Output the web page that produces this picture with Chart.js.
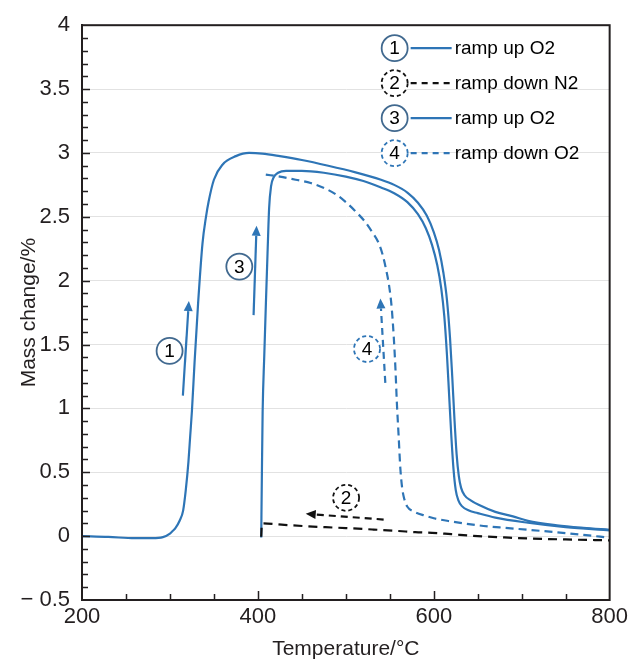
<!DOCTYPE html>
<html>
<head>
<meta charset="utf-8">
<script src="https://cdn.jsdelivr.net/npm/chart.js@4.4.1/dist/chart.umd.min.js"></script>
<style>
  html, body { margin: 0; padding: 0; background: #fff; }
</style>
</head>
<body>
<canvas id="chart" width="632" height="662"></canvas>
<script>
// 1: ramp up O2
const up1Temp = [200, 230, 260, 280, 292, 300, 303, 306, 311, 315, 318, 321, 323, 325, 328, 332, 337, 341, 344, 350,
                 360, 375, 390, 405, 425, 450, 480, 510, 540, 555, 570, 582, 592, 600, 606, 611, 615, 618.5, 621, 623.5,
                 626, 628.5, 631, 635, 642, 651, 670, 690, 707, 740, 770, 800];
const up1Mass = [0, -0.006, -0.016, -0.016, -0.008, 0.02, 0.04, 0.06, 0.12, 0.2, 0.36, 0.58, 0.78, 0.98, 1.36, 1.82, 2.29, 2.5, 2.62, 2.79,
                 2.91, 2.975, 3.0, 2.995, 2.975, 2.945, 2.9, 2.85, 2.79, 2.75, 2.69, 2.61, 2.51, 2.38, 2.24, 2.06, 1.85, 1.55, 1.25, 0.92,
                 0.64, 0.47, 0.38, 0.32, 0.28, 0.245, 0.19, 0.155, 0.12, 0.085, 0.065, 0.05];

// 2: ramp down N2
const down2Temp = [403.8, 404.6, 430, 454, 477, 500, 530, 560, 579, 598, 620, 650, 680, 707, 750, 800];
const down2Mass = [-0.005, 0.1, 0.088, 0.078, 0.07, 0.063, 0.052, 0.04, 0.031, 0.026, 0.015, 0.0, -0.01, -0.018, -0.026, -0.033];

// 3: ramp up O2
const up3Temp = [403.8, 404.5, 405.4, 407.2, 409.1, 411, 412.8, 415, 418, 423, 432, 450, 475, 500, 520, 540, 555, 570, 582, 591,
                 598, 604, 608.5, 612, 615, 617.5, 620, 622.5, 625, 628, 632, 640, 650, 670, 707, 750, 800];
const up3Mass = [-0.01, 0.45, 0.97, 1.4, 1.82, 2.22, 2.57, 2.74, 2.81, 2.845, 2.86, 2.86, 2.845, 2.815, 2.78, 2.73, 2.685, 2.615, 2.52, 2.41,
                 2.28, 2.12, 1.94, 1.72, 1.42, 1.1, 0.78, 0.52, 0.36, 0.28, 0.235, 0.2, 0.18, 0.145, 0.105, 0.07, 0.045];

// 4: ramp down O2
const down4Temp = [409, 425, 443, 460, 477, 490, 500, 510, 522, 530, 537, 542, 546, 549, 552, 554.5, 556.5, 558, 560, 562,
                   564, 566.5, 570, 578, 590, 600, 620, 650, 680, 707, 740, 770, 800];
const down4Mass = [2.83, 2.815, 2.79, 2.765, 2.72, 2.67, 2.615, 2.55, 2.46, 2.38, 2.3, 2.2, 2.08, 1.97, 1.8, 1.56, 1.3, 1.05, 0.79, 0.53,
                   0.38, 0.29, 0.23, 0.19, 0.16, 0.14, 0.115, 0.085, 0.065, 0.05, 0.03, 0.01, -0.012];

const stepNames = ['ramp up O2', 'ramp down N2', 'ramp up O2', 'ramp down O2'];
const stepNumbers = ['1', '2', '3', '4'];

// arrows and circled numbers inside the plot (temperature, mass)
const arrowFrom = [[314.7, 1.10], [543.0, 0.13], [395.1, 1.73], [544.9, 1.20]];
const arrowTo   = [[321.5, 1.84], [454.4, 0.175], [398.5, 2.43], [539.3, 1.86]];
const badgeAt   = [[299.6, 1.45], [500.3, 0.30], [378.9, 2.11], [524.1, 1.465]];

const blue = '#2e75b6';
const ink = '#231f20';
const ringBlue = '#41698f';
const family = "'Liberation Sans', Arial, Helvetica, sans-serif";

// line + badge styles for each step
const styles = [
  { color: blue, dash: [], ring: ringBlue, ringDash: [] },
  { color: '#111111', dash: [9, 6], ring: '#111111', ringDash: [4, 3] },
  { color: blue, dash: [], ring: ringBlue, ringDash: [] },
  { color: blue, dash: [8, 5], ring: blue, ringDash: [4, 3] }
];

function pts(xs, ys) {
  return xs.map((x, i) => ({ x: x, y: ys[i] }));
}

const series = [
  pts(up1Temp, up1Mass),
  pts(down2Temp, down2Mass),
  pts(up3Temp, up3Mass),
  pts(down4Temp, down4Mass)
];

function badge(ctx, cx, cy, txt, st) {
  ctx.save();
  ctx.beginPath();
  ctx.arc(cx, cy, 13, 0, Math.PI * 2);
  ctx.fillStyle = '#fff';
  ctx.fill();
  ctx.setLineDash(st.ringDash);
  ctx.lineWidth = 1.8;
  ctx.strokeStyle = st.ring;
  ctx.stroke();
  ctx.setLineDash([]);
  ctx.fillStyle = '#000';
  ctx.font = '19px ' + family;
  ctx.textAlign = 'center';
  ctx.textBaseline = 'middle';
  ctx.fillText(txt, cx, cy + 1);
  ctx.restore();
}

function arrow(ctx, x0, y0, x1, y1, st) {
  const ang = Math.atan2(y1 - y0, x1 - x0);
  const head = 10, half = 4.5;
  const bx = x1 - Math.cos(ang) * head, by = y1 - Math.sin(ang) * head;
  ctx.save();
  ctx.strokeStyle = st.color;
  ctx.fillStyle = st.color;
  ctx.lineWidth = 2.2;
  ctx.setLineDash(st.dash.length ? [7, 5] : []);
  ctx.beginPath();
  ctx.moveTo(x0, y0);
  ctx.lineTo(bx, by);
  ctx.stroke();
  ctx.setLineDash([]);
  ctx.beginPath();
  ctx.moveTo(x1, y1);
  ctx.lineTo(bx - Math.sin(ang) * half, by + Math.cos(ang) * half);
  ctx.lineTo(bx + Math.sin(ang) * half, by - Math.cos(ang) * half);
  ctx.closePath();
  ctx.fill();
  ctx.restore();
}

const decor = {
  id: 'decor',
  afterDatasetsDraw(chart) {
    const { ctx, chartArea: a, scales: { x, y } } = chart;
    ctx.save();

    // inward tick marks
    ctx.strokeStyle = ink;
    ctx.lineWidth = 1.5;
    ctx.beginPath();
    for (let k = 1; k < 45; k++) {
      const py = Math.round(y.getPixelForValue(-0.5 + k * 0.1)) + 0.5;
      const len = k % 5 === 0 ? 8 : 6;
      ctx.moveTo(a.left, py);
      ctx.lineTo(a.left + len, py);
    }
    for (let k = 1; k < 12; k++) {
      const px = Math.round(x.getPixelForValue(200 + k * 50)) + 0.5;
      const len = k % 4 === 0 ? 9 : 6;
      ctx.moveTo(px, a.bottom);
      ctx.lineTo(px, a.bottom - len);
    }
    ctx.stroke();

    // frame
    ctx.lineWidth = 2;
    ctx.strokeRect(a.left, a.top, a.right - a.left, a.bottom - a.top);

    // arrows and circled step numbers
    for (let i = 0; i < 4; i++) {
      arrow(ctx,
        x.getPixelForValue(arrowFrom[i][0]), y.getPixelForValue(arrowFrom[i][1]),
        x.getPixelForValue(arrowTo[i][0]), y.getPixelForValue(arrowTo[i][1]), styles[i]);
    }
    for (let i = 0; i < 4; i++) {
      badge(ctx, x.getPixelForValue(badgeAt[i][0]), y.getPixelForValue(badgeAt[i][1]), stepNumbers[i], styles[i]);
    }

    // legend
    for (let i = 0; i < 4; i++) {
      const ry = a.top + 23 + i * 35;
      const cx = a.right - 215;
      ctx.save();
      ctx.strokeStyle = styles[i].color;
      ctx.lineWidth = 2.2;
      ctx.setLineDash(styles[i].dash.length ? [6, 5] : []);
      ctx.beginPath();
      ctx.moveTo(cx + 16, ry);
      ctx.lineTo(cx + 57, ry);
      ctx.stroke();
      ctx.restore();
      badge(ctx, cx, ry, stepNumbers[i], styles[i]);
      ctx.fillStyle = '#000';
      ctx.font = '19px ' + family;
      ctx.textAlign = 'left';
      ctx.textBaseline = 'middle';
      ctx.fillText(stepNames[i], cx + 60, ry + 1);
    }
    ctx.restore();
  }
};

new Chart(document.getElementById('chart'), {
  type: 'scatter',
  data: {
    datasets: series.map((d, i) => ({
      label: stepNames[i],
      data: d,
      showLine: true,
      borderColor: styles[i].color,
      borderDash: styles[i].dash,
      borderWidth: 2.2,
      pointRadius: 0,
      cubicInterpolationMode: 'monotone'
    }))
  },
  options: {
    responsive: false,
    animation: false,
    layout: { padding: { top: 19, right: 20, left: 0, bottom: 0 } },
    plugins: { legend: { display: false }, tooltip: { enabled: false } },
    scales: {
      x: {
        type: 'linear',
        min: 200,
        max: 800,
        ticks: { stepSize: 200, padding: 4, color: ink, font: { family: family, size: 22 } },
        grid: { display: false, drawTicks: false },
        border: { display: true, color: ink, width: 2 },
        title: { display: true, text: 'Temperature/°C', color: ink, font: { family: family, size: 21 }, padding: { top: 0, bottom: 0 } },
        afterFit: s => { s.height = 62; }
      },
      y: {
        min: -0.5,
        max: 4,
        ticks: {
          stepSize: 0.5,
          padding: 12,
          color: ink,
          font: { family: family, size: 22 },
          callback: v => (v < 0 ? '\u2212 ' + Math.abs(v) : String(v))
        },
        grid: { color: '#e2e2e2', lineWidth: 1, drawTicks: false },
        border: { display: true, color: ink, width: 2 },
        title: { display: true, text: 'Mass change/%', color: ink, font: { family: family, size: 21 }, padding: { top: 17, bottom: 0 } },
        afterFit: s => { s.width = 82; }
      }
    }
  },
  plugins: [decor]
});
</script>
</body>
</html>
